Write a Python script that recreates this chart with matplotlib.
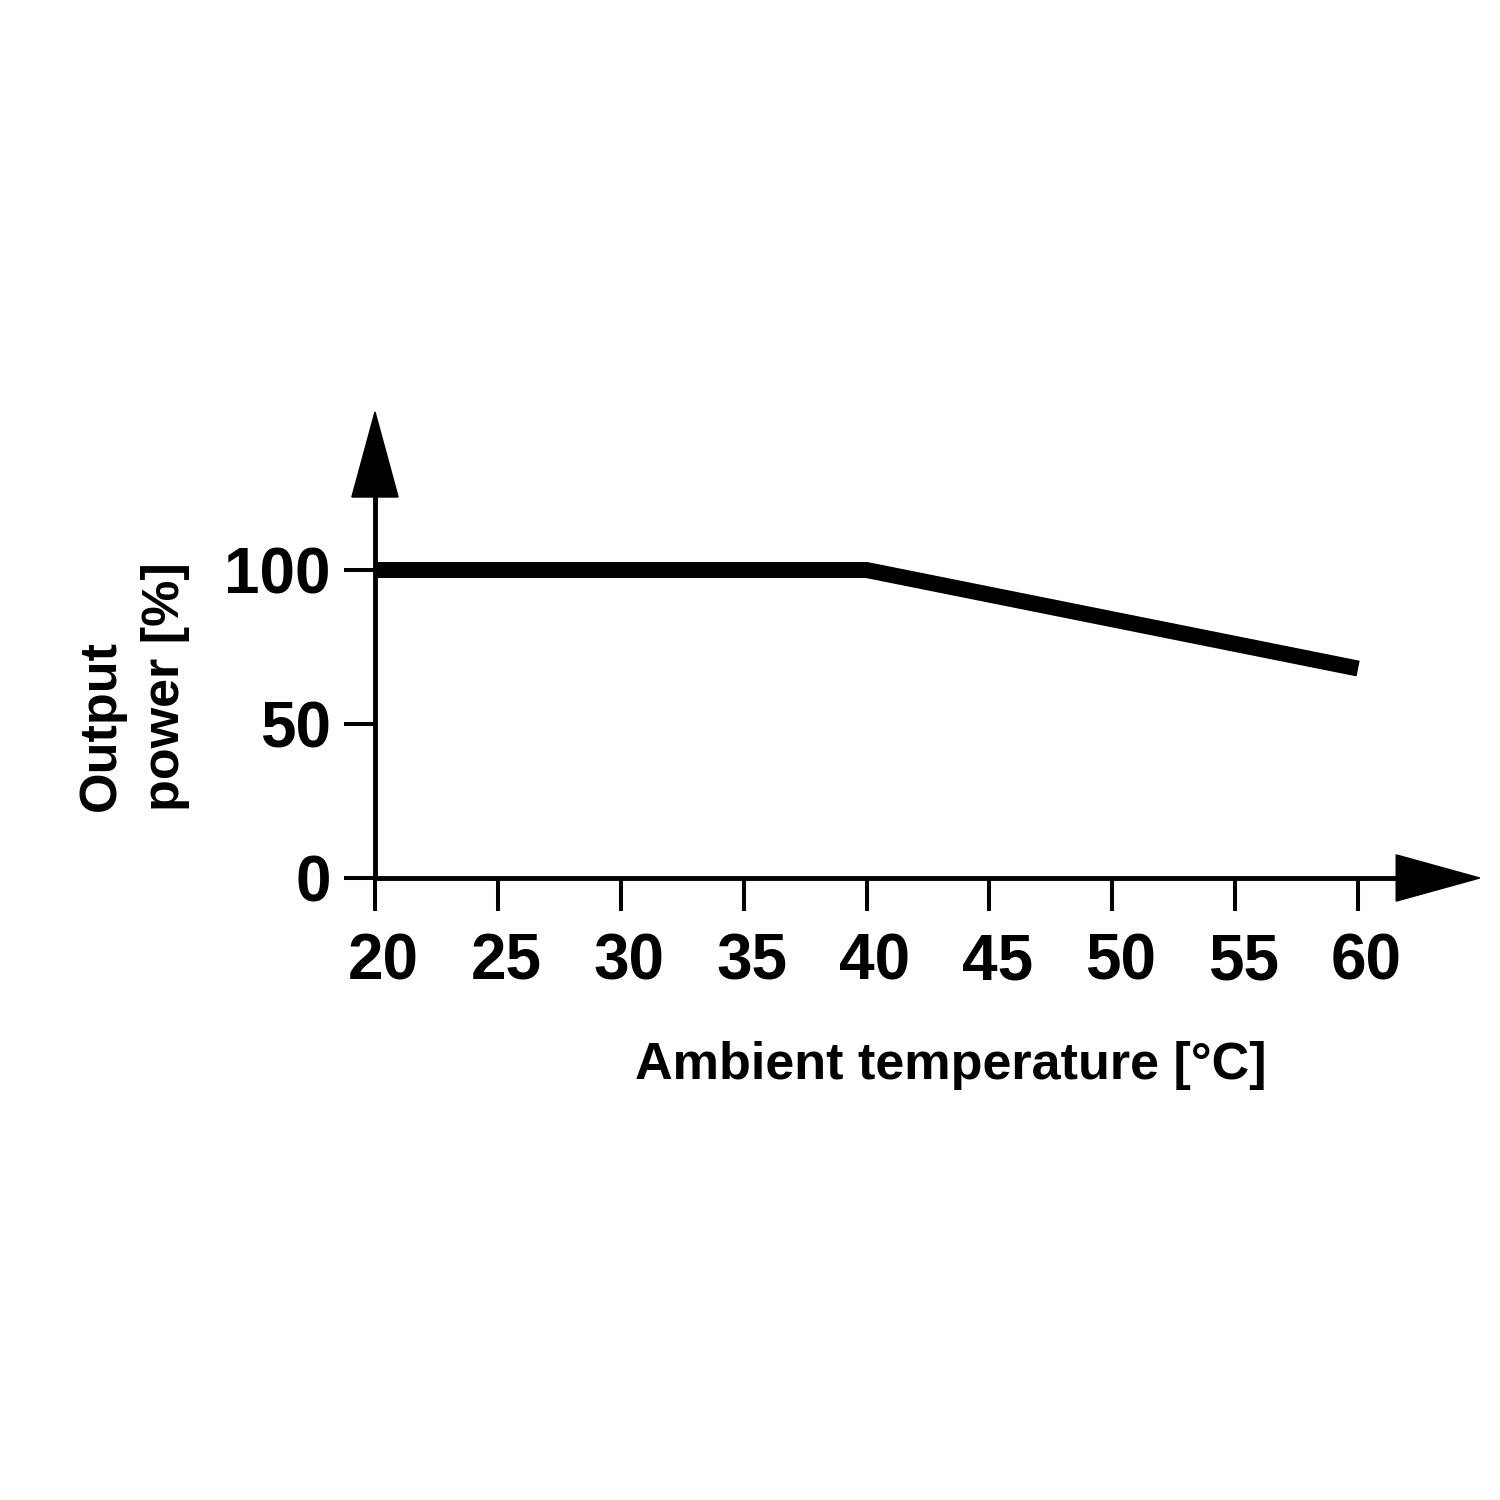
import matplotlib.pyplot as plt
from matplotlib.patches import Polygon

# derating curve: output power vs ambient temperature
temps = [20, 25, 30, 35, 40, 45, 50, 55, 60]
power = [100, 100, 100, 100, 100, 92, 84, 76, 68]

x_ticks = [20, 25, 30, 35, 40, 45, 50, 55, 60]
y_ticks = [0, 50, 100]

plt.rcParams['font.family'] = ['Liberation Sans', 'DejaVu Sans']
plt.rcParams['font.weight'] = 'bold'

fig = plt.figure(figsize=(15, 15), dpi=100)
# axes box: x 20..65 -> px 375..1481, y 0..151 -> px 878..412
ax = fig.add_axes([0.25, 1 - 878 / 1500, (1481 - 375) / 1500, (878 - 412) / 1500])
ax.set_xlim(20, 65)
ax.set_ylim(0, 151.3)

for s in ax.spines.values():
    s.set_visible(False)

# axis lines
ax.plot([20, 20], [0, 130], color='black', lw=3.5, clip_on=False, solid_capstyle='butt')
ax.plot([20, 62], [0, 0], color='black', lw=3.5, clip_on=False, solid_capstyle='butt')

# arrowheads
ax.add_patch(Polygon([[20 - 0.94, 123.7], [20 + 0.94, 123.7], [20, 151.3]],
                     closed=True, color='black', clip_on=False))
ax.add_patch(Polygon([[61.55, -7.5], [61.55, 7.5], [64.95, 0]],
                     closed=True, color='black', clip_on=False))

# the curve
ax.plot(temps, power, color='black', lw=11.5, solid_joinstyle='round',
        solid_capstyle='butt', clip_on=False, zorder=3)

ax.set_xticks(x_ticks)
ax.set_xticklabels([str(t) for t in x_ticks])
ax.set_yticks(y_ticks)
ax.set_yticklabels([str(t) for t in y_ticks])
ax.tick_params(axis='x', direction='out', length=24, width=2.9, pad=15,
               labelsize=46)
ax.tick_params(axis='y', direction='out', length=22, width=2.9, pad=10,
               labelsize=46)
for lab in ax.get_xticklabels() + ax.get_yticklabels():
    lab.set_fontweight('bold')
# labels sit a little right of their ticks in the original
from matplotlib.transforms import ScaledTranslation
for lab in ax.get_xticklabels():
    lab.set_transform(lab.get_transform() + ScaledTranslation(8 / 100, 0, fig.dpi_scale_trans))

fig.text(951 / 1500, 1 - 1065 / 1500, 'Ambient temperature [°C]',
         ha='center', va='center', fontsize=37.5, fontweight='bold')
fig.text(133 / 1500, 1 - 687 / 1500, 'Output\npower [%]', rotation=90,
         ha='center', va='center', multialignment='left', fontsize=37.5,
         fontweight='bold', linespacing=1.4)

fig.savefig('out.png', dpi=100, facecolor='white')
